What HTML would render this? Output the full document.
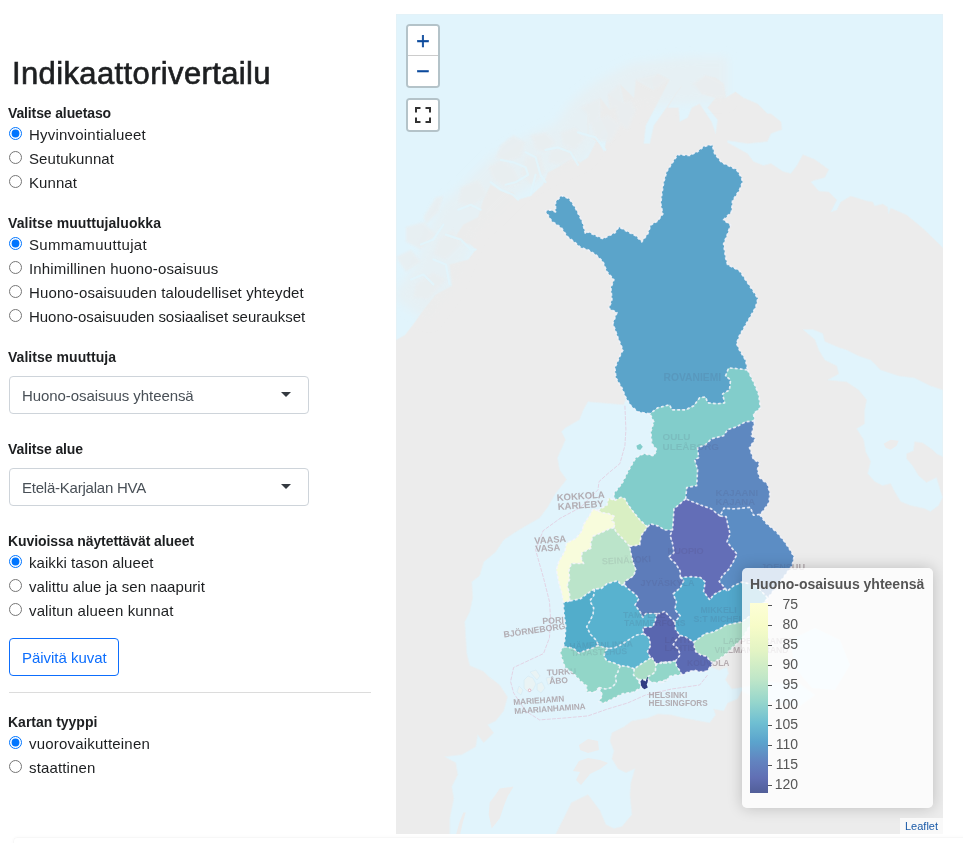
<!DOCTYPE html>
<html lang="fi">
<head>
<meta charset="utf-8">
<title>Indikaattorivertailu</title>
<style>
*{box-sizing:border-box}
html,body{margin:0;padding:0;background:#fff}
body{width:963px;height:843px;position:relative;overflow:hidden;font-family:"Liberation Sans",sans-serif;color:#1d1f21;font-size:15px}
.t{position:absolute;white-space:nowrap;line-height:20px;transform-origin:0 50%}
h1.t{margin:0;font-weight:normal;font-size:31px;line-height:36px;-webkit-text-stroke:0.65px #1d1f21}
.lbl{font-weight:bold;font-size:14px}
.rad{position:absolute;width:13px;height:13px;margin:0;padding:0}
.sel{position:absolute;left:9px;width:300px;height:38px;border:1px solid #ced4da;border-radius:4px;background:#fff}
.sel .t{left:12px;top:9px;color:#495057}
.sel:after{content:"";position:absolute;right:17px;top:15px;border:5px solid transparent;border-top:5px solid #343a40;border-bottom:0}
.btn{position:absolute;left:9px;top:638px;width:110px;height:38px;border:1px solid #0d6efd;border-radius:4px;background:#fff}
.btn .t{left:12px;top:9px;color:#0d6efd}
hr{position:absolute;left:9px;top:692px;width:362px;height:1px;margin:0;border:0;background:#dcdcdc}
#map{position:absolute;left:396px;top:14px;width:547px;height:820px;background:#e0f3fb;overflow:hidden}
#mapsvg{position:absolute;left:0;top:0}
.lbar{position:absolute;width:34px;border:2px solid rgba(0,0,0,0.2);border-radius:4px;background:#fff;background-clip:padding-box;overflow:hidden}
.lb{position:relative;width:30px;height:30px;background:#fff}
.zt{position:absolute;left:0;width:30px;text-align:center;font:normal 23px/30px "Liberation Sans",sans-serif;color:#0c4a9c;-webkit-text-stroke:0.45px #0c4a9c}
#legend{position:absolute;left:346px;top:554px;width:191px;height:240px;background:rgba(255,255,255,0.8);border-radius:5px;box-shadow:0 0 15px rgba(0,0,0,0.2);color:#555}
.lt{position:absolute;left:8px;top:6px;font:bold 14px/20px "Liberation Sans",sans-serif;color:#555;white-space:nowrap}
#attr{position:absolute;right:0;bottom:0;height:16px;padding:0 5px;background:rgba(255,255,255,0.7);font:11px/16px "Liberation Sans",sans-serif;color:#1a5aa8}
#card{position:absolute;left:13px;top:837px;width:960px;height:20px;border:1px solid rgba(0,0,0,0.03);border-radius:4px;box-shadow:0 0 3px rgba(0,0,0,0.03)}
</style>
</head>
<body>
<h1 class="t" style="left:12px;top:56px;letter-spacing:0.37px">Indikaattorivertailu</h1>

<div class="t lbl" style="left:8px;top:103px;letter-spacing:-0.13px">Valitse aluetaso</div>
<input type="radio" class="rad" checked style="left:9px;top:127px"><div class="t" style="left:29px;top:125px;letter-spacing:0.21px">Hyvinvointialueet</div>
<input type="radio" class="rad" style="left:9px;top:151px"><div class="t" style="left:29px;top:149px;letter-spacing:0.07px">Seutukunnat</div>
<input type="radio" class="rad" style="left:9px;top:175px"><div class="t" style="left:29px;top:173px;letter-spacing:0.08px">Kunnat</div>

<div class="t lbl" style="left:8px;top:213px;letter-spacing:0.06px">Valitse muuttujaluokka</div>
<input type="radio" class="rad" checked style="left:9px;top:237px"><div class="t" style="left:29px;top:235px;letter-spacing:0.33px">Summamuuttujat</div>
<input type="radio" class="rad" style="left:9px;top:261px"><div class="t" style="left:29px;top:259px;letter-spacing:0.16px">Inhimillinen huono-osaisuus</div>
<input type="radio" class="rad" style="left:9px;top:285px"><div class="t" style="left:29px;top:283px;letter-spacing:0.12px">Huono-osaisuuden taloudelliset yhteydet</div>
<input type="radio" class="rad" style="left:9px;top:309px"><div class="t" style="left:29px;top:307px;letter-spacing:-0.04px">Huono-osaisuuden sosiaaliset seuraukset</div>

<div class="t lbl" style="left:8px;top:347px;letter-spacing:0.04px">Valitse muuttuja</div>
<div class="sel" style="top:376px"><div class="t" style="letter-spacing:-0.08px">Huono-osaisuus yhteensä</div></div>

<div class="t lbl" style="left:8px;top:439px;letter-spacing:-0.11px">Valitse alue</div>
<div class="sel" style="top:468px"><div class="t" style="letter-spacing:-0.23px">Etelä-Karjalan HVA</div></div>

<div class="t lbl" style="left:8px;top:531px;letter-spacing:-0.08px">Kuvioissa näytettävät alueet</div>
<input type="radio" class="rad" checked style="left:9px;top:555px"><div class="t" style="left:29px;top:553px;letter-spacing:0.06px">kaikki tason alueet</div>
<input type="radio" class="rad" style="left:9px;top:579px"><div class="t" style="left:29px;top:577px;letter-spacing:0.06px">valittu alue ja sen naapurit</div>
<input type="radio" class="rad" style="left:9px;top:603px"><div class="t" style="left:29px;top:601px;letter-spacing:0.13px">valitun alueen kunnat</div>

<div class="btn"><div class="t" style="letter-spacing:-0.03px">Päivitä kuvat</div></div>
<hr>

<div class="t lbl" style="left:8px;top:712px;letter-spacing:-0.01px">Kartan tyyppi</div>
<input type="radio" class="rad" checked style="left:9px;top:736px"><div class="t" style="left:29px;top:734px;letter-spacing:0.2px">vuorovaikutteinen</div>
<input type="radio" class="rad" style="left:9px;top:760px"><div class="t" style="left:29px;top:758px;letter-spacing:0.15px">staattinen</div>

<div id="card"></div>
<div id="map">
<!--MAPSVG-->
<svg id="mapsvg" width="547" height="820" viewBox="0 0 547 820">
<rect width="547" height="820" fill="#ececec"/>
<g fill="#e1f4fc" stroke="#e6f0f4" stroke-width="0.8" stroke-linejoin="round">
<path d="M0.0,0.0 547.0,0.0 547.0,233.8 526.5,213.9 510.6,200.9 494.6,193.9 492.6,199.9 491.6,192.9 486.6,189.9 478.7,191.9 476.7,187.9 470.7,186.9 454.7,182.0 444.8,187.9 440.8,195.9 434.8,197.9 440.8,185.9 432.8,178.0 422.8,177.0 414.9,168.0 417.9,166.5 428.8,163.5 432.8,155.5 418.9,145.5 406.9,140.6 400.9,151.5 394.9,159.5 387.0,157.5 375.0,149.5 367.4,151.5 357.5,147.5 351.5,139.6 331.6,128.6 331.6,126.6 351.5,129.6 371.4,127.6 375.0,119.6 386.0,115.6 385.0,107.7 375.0,99.7 371.4,99.7 361.5,89.7 347.5,83.7 339.5,77.8 329.6,83.7 327.6,69.8 319.6,63.8 309.6,61.8 299.7,69.8 305.6,79.7 319.6,83.7 311.6,93.7 321.6,105.7 319.6,119.6 315.6,107.7 303.6,89.7 295.7,93.7 291.7,103.7 283.7,107.7 282.7,93.7 271.7,93.7 279.7,79.7 285.7,71.8 257.8,111.6 253.8,129.6 247.8,129.6 249.8,111.6 273.7,65.8 261.8,59.8 255.8,65.8 257.8,75.8 239.8,65.8 237.9,83.7 223.9,69.8 227.9,89.7 211.9,79.7 213.9,95.7 204.0,83.7 204.0,103.7 211.9,119.6 207.9,137.6 200.0,123.6 192.0,119.6 192.0,89.7 192.0,119.6 200.0,127.6 192.0,143.5 184.4,148.3 174.5,144.6 162.0,153.3 152.0,158.3 147.0,170.7 134.6,182.0 122.1,185.7 117.1,178.2 104.7,177.0 94.7,170.7 87.2,185.7 82.2,203.1 67.3,210.6 57.3,225.6 74.8,230.5 79.8,235.5 72.3,245.5 53.6,250.5 56.1,271.7 39.9,280.4 27.4,296.1 19.0,308.0 9.0,321.0 0.0,326.0Z"/>
<path d="M406.9,315.5 418.9,325.5 422.8,336.0 428.8,346.0 440.8,351.9 442.8,359.9 431.8,365.9 450.8,367.9 462.7,375.9 470.7,385.8 468.7,395.8 468.7,409.8 460.7,414.7 467.7,425.7 469.7,437.7 474.7,447.6 471.7,459.6 478.7,467.6 486.6,471.6 494.6,469.6 498.6,477.5 504.6,487.5 514.6,491.5 528.5,494.5 534.5,497.5 542.5,491.5 546.5,483.5 543.5,473.6 540.5,463.6 530.5,468.6 522.5,461.6 516.5,451.6 510.6,444.7 510.6,439.7 517.5,436.7 518.5,427.7 526.5,428.7 536.5,435.7 540.5,439.7 546.9,442.7 546.9,375.9 534.5,371.9 518.5,363.9 502.6,361.9 484.6,355.9 474.7,346.0 462.7,342.0 454.7,338.0 450.8,336.0 442.8,333.5 428.8,327.5 426.8,319.5 416.9,315.5Z"/>
<path d="M229.9,384.8 227.9,390.8 204.0,388.8 192.0,387.8 187.4,395.8 183.4,405.8 169.5,413.8 165.5,417.7 169.5,425.7 161.5,443.7 163.5,455.6 170.5,465.6 159.5,479.5 151.5,493.5 143.5,504.1 129.6,512.0 119.6,518.0 107.7,525.9 99.7,537.9 87.7,547.9 83.7,561.8 75.8,567.8 76.8,583.7 73.8,597.7 68.8,607.7 69.8,623.6 70.8,639.6 73.8,651.5 87.7,657.5 95.7,665.5 93.7,663.0 103.7,671.0 111.6,682.9 107.7,696.9 99.7,706.9 91.7,710.8 97.7,718.8 87.7,728.8 81.7,720.8 79.7,732.8 65.8,740.7 48.8,742.7 59.8,748.7 61.8,760.7 55.8,772.6 57.8,784.6 53.8,804.5 53.8,820.5 159.5,820.5 169.5,800.6 175.4,788.6 192.0,780.6 204.0,796.6 209.9,810.5 217.9,814.5 225.9,812.5 235.9,800.6 233.9,780.6 234.9,768.7 238.9,754.7 229.9,758.7 221.9,754.7 215.9,744.7 217.9,736.8 213.9,726.8 215.9,718.8 227.9,712.8 235.9,706.9 251.8,703.9 261.8,699.9 275.7,700.9 287.7,703.9 303.6,706.9 313.6,708.8 319.6,700.9 317.6,694.9 327.6,696.9 331.6,688.9 341.5,684.9 345.5,676.9 364.0,686.0 404.0,692.0 419.0,681.0 404.0,670.0 374.0,668.0 345.8,673.5 335.7,675.0 329.4,665.7 332.5,659.5 331.0,653.2 323.2,656.3 315.4,653.2 315.0,651.0 304.0,641.0 284.0,641.0 264.0,651.0 244.0,651.0 224.0,661.0 204.0,661.0 189.0,651.0 179.0,636.0 179.0,586.0 176.0,556.0 184.0,536.0 199.0,516.0 214.0,501.0 229.0,486.0 244.0,456.0 266.0,438.0 266.0,406.0 249.0,391.0 230.0,384.0Z"/>
</g>
<path d="M394.0,626.0 419.0,614.0 444.0,626.0 454.0,651.0 439.0,676.0 416.0,674.0 399.0,654.0Z" fill="#e1f4fc"/>
<g fill="#ececec">
<path d="M103.7,774.6 117.6,772.6 111.6,782.6 107.7,792.6 103.7,804.5 95.7,814.5 92.7,800.6 93.7,788.6 99.7,780.6Z"/>
<path d="M69.8,798.6 66.8,808.5 64.2,819.9 60.2,819.9 63.4,808.5 67.4,798.6Z"/>
<path d="M183.0,731.0 192.0,725.0 202.0,727.0 203.0,736.0 192.0,739.0 184.0,736.0Z"/>
<path d="M177.0,757.0 183.0,747.0 192.0,744.0 204.0,746.0 212.0,749.0 204.0,755.0 194.0,760.0 185.0,771.0 180.0,766.0 184.0,758.0Z"/>
<path d="M487.6,429.7 494.6,425.7 502.6,426.7 500.6,431.7 494.6,435.7 489.6,433.7Z"/>
</g>
<filter id="bl2" x="-30%" y="-30%" width="160%" height="160%"><feGaussianBlur stdDeviation="5"/></filter>
<path d="M331.6,65.8 303.6,65.8 275.7,67.8 241.8,71.8 211.9,87.7 192.0,103.7 174.5,128.4 139.6,143.3 109.7,160.8 84.7,185.7 62.3,205.6 49.8,235.5 37.4,265.4 15.0,296.1" fill="none" stroke="#ebedee" stroke-opacity="0.5" stroke-width="46" stroke-linejoin="round" filter="url(#bl2)"/>
<filter id="bl" x="-20%" y="-20%" width="140%" height="140%"><feGaussianBlur stdDeviation="0.9"/></filter>
<g fill="#e9eef0" opacity="0.8" filter="url(#bl)">
<path d="M295.7,69.8 309.6,60.8 327.6,69.8 329.6,83.7 319.6,83.7 305.6,79.7Z"/>
<path d="M237.9,65.8 261.8,59.8 273.7,65.8 257.8,75.8Z"/>
<path d="M211.9,79.7 223.9,69.8 227.9,89.7 213.9,95.7Z"/>
<path d="M192.0,89.7 204.0,83.7 204.0,103.7 192.0,111.6Z"/>
<path d="M104.7,130.9 117.1,120.9 129.6,128.4 124.6,143.3 109.7,148.3 99.7,143.3Z"/>
<path d="M134.6,120.9 149.5,118.4 159.5,128.4 149.5,138.3 139.6,135.8Z"/>
<path d="M164.5,118.4 179.4,113.4 189.4,123.4 179.4,135.8 167.0,130.9Z"/>
<path d="M184.4,93.5 199.4,86.0 206.9,96.0 194.4,103.4Z"/>
<path d="M194.4,108.4 211.8,101.0 224.3,110.9 214.3,128.4 199.4,125.9Z"/>
<path d="M92.2,153.3 104.7,145.8 117.1,153.3 124.6,168.2 109.7,173.2 97.2,165.8Z"/>
<path d="M64.8,173.2 82.2,165.8 92.2,180.7 74.8,193.2 62.3,188.2Z"/>
<path d="M39.9,183.2 47.4,182.0 42.4,198.1 29.9,210.6 27.4,203.1Z"/>
<path d="M10.0,213.1 27.4,208.1 39.9,220.6 24.9,235.5 10.0,228.1Z"/>
<path d="M42.4,225.6 57.3,215.6 64.8,230.5 49.8,245.5 37.4,240.5Z"/>
<path d="M0.0,243.0 15.0,235.5 24.9,248.0 10.0,258.0Z"/>
<path d="M19.9,270.4 37.4,258.0 49.8,265.4 32.4,285.4 17.4,282.9Z"/>
<path d="M129.6,143.3 144.5,140.8 149.5,158.3 134.6,170.7 124.6,160.8Z"/>
<path d="M219.3,91.0 234.3,86.0 240.0,96.0 231.8,115.9 221.8,108.4Z"/>
<path d="M154.5,135.8 174.5,133.4 179.4,143.3 164.5,150.8 152.0,148.3Z"/>
</g>
<g fill="none" stroke="#e1f4fc" stroke-opacity="0.85" stroke-width="2.2" stroke-linecap="round" stroke-linejoin="round">
<path d="M104.7,145.8 117.1,148.3 129.6,153.3 132.1,160.8 119.6,168.2 109.7,170.7"/>
<path d="M129.6,138.3 139.6,143.3 144.5,160.8 149.5,168.2"/>
<path d="M149.5,135.8 162.0,133.4 174.5,138.3 181.9,150.8"/>
<path d="M94.7,168.2 104.7,175.7 117.1,180.7 122.1,185.7"/>
<path d="M181.9,118.4 199.4,123.4 209.3,135.8"/>
<path d="M62.3,195.7 74.8,190.7 84.7,195.7"/>
<path d="M49.8,220.6 64.8,225.6 74.8,235.5 79.8,235.5"/>
<path d="M37.4,245.5 49.8,250.5 53.6,270.4"/>
<path d="M139.6,160.8 134.6,180.7"/>
<path d="M24.9,230.5 37.4,225.6 47.4,210.6"/>
<path d="M15.0,265.4 27.4,260.5 37.4,270.4"/>
</g>
<path d="M228.9,391.8 229.9,415.7 228.9,431.7 223.9,449.6 211.9,459.6 203.0,467.6 202.0,475.6 201.6,476.2 184.5,493.4 164.2,504.3 147.1,516.7 139.6,535.9 147.5,563.8 153.5,587.7 154.5,603.7 153.5,623.6 147.5,639.6 117.6,653.5 114.6,667.5 117.6,678.9 129.6,696.9 143.5,705.9 169.5,703.9 192.0,701.9 211.9,694.9 231.9,688.9 249.8,680.9 275.7,675.0 303.6,671.0 311.6,661.0" fill="none" stroke="#e3c3d8" stroke-opacity="0.75" stroke-width="0.9" stroke-dasharray="4 1.2"/>
<g fill="#edf3f1" stroke="#d3e8f3" stroke-width="0.8" opacity="0.7">
<path d="M128.0,666.0 132.0,662.0 137.0,664.0 140.0,670.0 137.0,676.0 132.0,678.0 128.0,674.0Z"/>
<path d="M134.0,658.0 140.0,656.0 144.0,662.0 141.0,666.0Z"/>
<path d="M141.0,670.0 146.0,668.0 149.0,674.0 145.0,679.0 141.0,676.0Z"/>
<path d="M150.0,664.0 155.0,663.0 156.0,669.0 152.0,671.0Z"/>
<path d="M123.0,672.0 127.0,676.0 125.0,681.0 121.0,678.0Z"/>
</g>
<circle cx="133.6" cy="676.3" r="1.3" fill="#fff" stroke="#d9a8b8" stroke-width="0.8"/>
<g font-family="'Liberation Sans',sans-serif" font-weight="bold" font-size="10" fill="#b4a9ab" fill-opacity="0.75">
<text x="267.5" y="366.5" font-size="10.3">ROVANIEMI</text>
<text x="266.5" y="425.5" font-size="9.9">OULU</text>
<text x="266.5" y="435.5" font-size="9.9">ULEÅBORG</text>
<text x="319.5" y="482.0" font-size="9.6">KAJAANI</text>
<text x="319.5" y="491.0" font-size="9.5">KAJANA</text>
<text x="161.0" y="487.0" font-size="9.5" transform="rotate(-4 161.0 487.0)">KOKKOLA</text>
<text x="162.0" y="496.0" font-size="9.5" transform="rotate(-4 162.0 496.0)">KARLEBY</text>
<text x="138.5" y="530.0" font-size="9.3" transform="rotate(-4 138.5 530.0)">VAASA</text>
<text x="139.5" y="538.0" font-size="9.2" transform="rotate(-4 139.5 538.0)">VASA</text>
<text x="206.0" y="550.5" font-size="9.1" transform="rotate(-3 206.0 550.5)">SEINÄJOKI</text>
<text x="244.5" y="572.0" font-size="9.0">JYVÄSKYLÄ</text>
<text x="271.5" y="540.0" font-size="9.2">KUOPIO</text>
<text x="365.0" y="555.5" font-size="9.1">JOENSUU</text>
<text x="304.5" y="598.5" font-size="8.8">MIKKELI</text>
<text x="297.5" y="607.5" font-size="8.8">S:T MICHEL</text>
<text x="227.0" y="603.5" font-size="8.8">TAMPERE</text>
<text x="228.0" y="612.0" font-size="8.7">TAMMERFORS</text>
<text x="146.5" y="610.0" font-size="8.8" transform="rotate(-3 146.5 610.0)">PORI</text>
<text x="108.0" y="623.5" font-size="8.7" transform="rotate(-8 108.0 623.5)">BJÖRNEBORG</text>
<text x="173.5" y="635.0" font-size="8.6" transform="rotate(-2 173.5 635.0)">HÄMEENLINNA</text>
<text x="175.0" y="642.0" font-size="8.6" transform="rotate(-2 175.0 642.0)">TAVASTEHUS</text>
<text x="268.5" y="628.5" font-size="8.6">LAHTI</text>
<text x="268.5" y="636.5" font-size="8.6">LAHTIS</text>
<text x="291.0" y="651.5" font-size="8.5">KOUVOLA</text>
<text x="327.0" y="629.5" font-size="8.6">LAPPEENRANTA</text>
<text x="318.5" y="639.0" font-size="8.6">VILLMANSTRAND</text>
<text x="151.0" y="661.5" font-size="8.4" transform="rotate(-3 151.0 661.5)">TURKU</text>
<text x="153.5" y="670.0" font-size="8.4" transform="rotate(-3 153.5 670.0)">ÅBO</text>
<text x="117.5" y="691.0" font-size="8.2" transform="rotate(-4 117.5 691.0)">MARIEHAMN</text>
<text x="118.5" y="700.0" font-size="8.2" transform="rotate(-4 118.5 700.0)">MAARIANHAMINA</text>
<text x="252.5" y="683.5" font-size="8.3">HELSINKI</text>
<text x="252.5" y="691.5" font-size="8.2">HELSINGFORS</text>
</g>
<g stroke="none">
<path d="M253.8,399.8 241.8,397.8 234.9,391.8 229.9,383.8 225.9,373.9 219.9,363.9 218.9,353.9 223.9,342.0 226.9,336.0 221.9,323.5 216.9,309.5 220.9,298.6 212.9,294.6 215.9,285.6 214.9,273.7 217.9,265.7 210.9,257.7 207.0,247.7 200.0,240.8 192.0,235.8 184.4,233.4 179.4,228.8 171.5,222.8 165.5,213.9 155.5,206.9 149.5,196.9 154.5,195.9 159.5,197.9 159.5,187.9 165.5,181.6 173.4,184.9 179.4,193.9 186.4,207.9 189.4,219.8 192.0,217.8 198.0,220.8 207.0,224.8 218.9,218.8 222.9,212.9 229.9,216.8 239.8,221.8 245.8,227.8 251.8,219.8 254.8,210.9 261.8,206.9 266.8,199.9 264.8,189.9 265.8,180.0 267.8,168.0 270.7,157.5 281.7,140.6 293.7,141.5 301.6,137.6 307.6,132.6 316.2,130.6 318.6,139.6 325.6,148.5 340.5,155.5 345.5,163.5 346.5,168.1 343.5,176.0 336.5,186.9 335.5,197.9 327.6,205.9 334.5,210.9 331.6,219.8 327.6,229.8 329.6,243.8 331.6,250.7 343.5,256.7 349.5,265.7 357.5,277.6 361.9,284.6 359.5,293.6 351.5,307.6 343.5,321.5 340.5,329.5 343.5,336.1 349.5,346.0 351.5,355.9 343.5,354.9 332.6,353.9 329.6,361.9 334.5,365.9 333.5,375.9 326.6,379.9 328.6,388.8 321.6,389.8 311.6,388.8 309.6,382.9 303.6,383.8 297.7,391.8 289.7,395.8 275.7,395.8 273.7,390.8 261.8,393.8Z" fill="#5ba4ca"/>
<path d="M253.8,399.8 261.8,393.8 273.7,390.8 275.7,395.8 289.7,395.8 297.7,391.8 303.6,383.8 309.6,382.9 311.6,388.8 321.6,389.8 328.6,388.8 326.6,379.9 333.5,375.9 334.5,365.9 329.6,361.9 332.6,353.9 343.5,354.9 351.5,355.9 357.5,367.9 362.5,379.9 364.4,393.8 357.5,399.8 358.5,406.8 349.5,407.8 340.5,412.8 331.6,415.7 327.6,421.7 315.6,424.7 309.6,430.7 301.6,433.7 302.6,443.7 298.7,445.6 301.6,455.6 300.7,471.6 290.7,473.6 289.7,484.8 278.0,494.9 277.2,507.4 276.5,516.0 268.6,516.0 262.4,512.1 254.6,509.7 251.5,512.9 243.7,505.8 237.5,498.1 231.2,489.5 228.9,484.8 225.0,483.3 218.8,486.4 217.9,479.5 225.9,469.6 231.9,457.6 239.8,443.7 247.8,439.7 257.8,441.7 260.8,435.7 255.8,429.7 254.8,417.7 257.8,407.8Z" fill="#82cdcb"/>
<path d="M358.5,406.8 357.5,411.8 355.5,421.7 359.5,424.7 353.5,433.7 357.5,445.6 363.5,448.6 361.4,456.0 363.7,463.8 371.5,470.0 373.8,479.4 373.0,488.7 366.8,497.3 363.7,500.4 357.5,501.2 354.3,493.4 337.2,494.9 327.9,494.2 324.0,502.0 315.4,494.9 304.5,491.0 295.2,487.2 289.7,484.8 290.7,473.6 300.7,471.6 301.6,455.6 298.7,445.6 302.6,443.7 301.6,433.7 309.6,430.7 315.6,424.7 327.6,421.7 331.6,415.7 340.5,412.8 349.5,407.8Z" fill="#5e88c0"/>
<path d="M363.7,500.4 369.9,509.0 380.8,518.3 388.6,527.7 394.8,537.0 398.0,543.2 396.0,552.0 384.0,568.0 372.0,584.0 359.0,571.0 345.8,568.1 337.2,572.0 331.0,577.5 329.4,574.4 323.2,567.4 326.3,561.9 332.5,555.7 337.2,547.9 341.1,540.1 335.7,533.9 331.0,527.7 334.1,519.9 331.8,510.5 330.2,502.7 324.0,502.0 327.9,494.2 337.2,494.9 354.3,493.4 357.5,501.2Z" fill="#5c8dc4"/>
<path d="M289.7,484.8 295.2,487.2 304.5,491.0 315.4,494.9 324.0,502.0 330.2,502.7 331.8,510.5 334.1,519.9 331.0,527.7 335.7,533.9 341.1,540.1 337.2,547.9 332.5,555.7 326.3,561.9 323.2,567.4 329.4,574.4 326.3,575.9 317.7,580.6 313.8,586.1 307.6,577.5 309.2,568.1 304.5,563.5 295.2,562.7 284.2,563.5 284.2,557.2 279.6,549.5 272.6,543.2 278.0,538.6 276.5,529.2 274.1,521.4 276.5,516.0 277.2,507.4 278.0,494.9Z" fill="#636eb7"/>
<path d="M251.5,512.9 254.6,509.7 262.4,512.1 268.6,516.0 276.5,516.0 274.1,521.4 276.5,529.2 278.0,538.6 272.6,543.2 279.6,549.5 284.2,557.2 284.2,563.5 288.1,566.0 284.2,573.8 277.2,580.0 280.4,587.8 278.8,595.6 284.2,601.8 278.8,608.1 273.3,602.6 268.7,597.2 264.0,599.5 260.8,599.5 249.9,599.5 246.8,603.4 243.7,597.2 239.0,590.9 242.9,584.7 239.0,580.0 232.8,575.3 228.1,570.7 228.9,567.4 237.5,561.9 239.8,555.7 237.5,549.5 235.1,540.1 233.6,532.3 243.7,530.8 245.2,521.4Z" fill="#5d7cba"/>
<path d="M218.8,486.4 225.0,483.3 228.9,484.8 231.2,489.5 237.5,498.1 243.7,505.8 251.5,512.9 245.2,521.4 243.7,530.8 233.6,532.3 228.1,526.1 220.3,518.3 218.0,513.6 218.8,509.0 214.9,506.6 218.8,502.7 212.5,499.6 206.3,498.8 201.6,496.5 207.1,493.4 211.0,491.0 212.5,484.0Z" fill="#d9efc3"/>
<path d="M201.6,496.5 197.0,494.9 193.8,501.2 187.6,510.5 186.1,516.7 179.8,524.5 170.5,529.2 168.9,537.0 162.7,547.9 160.4,555.7 162.7,568.1 165.8,579.1 167.4,588.6 173.6,587.0 173.6,580.6 171.3,571.3 173.6,565.0 172.8,557.2 175.2,549.5 187.6,549.5 185.3,544.8 186.1,538.6 195.4,533.9 194.6,529.2 197.0,522.2 206.3,518.3 212.5,515.2 218.0,513.6 218.8,509.0 214.9,506.6 218.8,502.7 212.5,499.6 206.3,498.8Z" fill="#f8fcdc"/>
<path d="M218.0,513.6 220.3,518.3 228.1,526.1 233.6,532.3 235.1,540.1 237.5,549.5 239.8,555.7 237.5,561.9 228.9,567.4 228.1,570.7 225.0,571.3 221.9,566.6 211.0,569.7 205.5,574.4 198.5,575.0 190.7,580.0 184.5,584.7 173.6,587.0 173.6,580.6 171.3,571.3 173.6,565.0 172.8,557.2 175.2,549.5 187.6,549.5 185.3,544.8 186.1,538.6 195.4,533.9 194.6,529.2 197.0,522.2 206.3,518.3 212.5,515.2Z" fill="#bbe4ca"/>
<path d="M173.6,587.0 184.5,584.7 190.7,580.0 198.5,575.0 197.7,581.6 193.8,587.0 197.7,594.0 197.0,600.3 194.6,605.7 190.7,612.7 194.6,620.5 200.1,626.0 202.4,631.4 195.4,634.5 188.4,636.9 182.9,639.2 177.5,634.5 171.3,633.0 167.4,633.0 168.9,625.2 169.7,612.7 168.1,600.3 167.4,588.6Z" fill="#52adcb"/>
<path d="M198.5,575.0 205.5,574.4 211.0,569.7 221.9,566.6 225.0,571.3 228.1,570.7 232.8,575.3 239.0,580.0 242.9,584.7 239.0,590.9 243.7,597.2 246.8,603.4 249.9,599.5 260.8,599.5 259.3,606.5 256.9,612.7 246.8,613.5 247.6,619.7 239.8,621.3 233.6,625.2 226.6,629.9 218.8,633.8 212.5,634.5 206.3,633.0 202.4,631.4 200.1,626.0 194.6,620.5 190.7,612.7 194.6,605.7 197.0,600.3 197.7,594.0 193.8,587.0 197.7,581.6Z" fill="#58b2cf"/>
<path d="M212.5,634.5 218.8,633.8 226.6,629.9 233.6,625.2 239.8,621.3 247.6,619.7 253.0,623.6 254.6,631.4 251.5,637.7 254.6,643.9 249.9,647.0 243.7,650.9 238.2,654.8 231.2,652.4 224.2,651.7 217.2,648.6 211.0,647.0 207.9,642.3 209.4,636.9Z" fill="#5db5d0"/>
<path d="M260.8,599.5 264.0,599.5 268.7,597.2 273.3,602.6 278.8,608.1 279.6,615.8 284.2,621.3 279.6,626.7 277.2,630.6 281.9,634.5 284.2,640.8 279.6,647.0 273.3,647.8 264.0,649.3 274.8,648.6 267.1,647.8 260.0,650.1 256.1,643.9 254.6,643.9 251.5,637.7 254.6,631.4 253.0,623.6 247.6,619.7 246.8,613.5 256.9,612.7 259.3,606.5Z" fill="#5966af"/>
<path d="M284.2,563.5 295.2,562.7 304.5,563.5 309.2,568.1 307.6,577.5 313.8,586.1 317.7,580.6 326.3,575.9 329.4,574.4 331.0,577.5 337.2,572.0 345.8,568.1 359.0,571.0 372.0,584.0 359.0,598.0 345.8,608.1 337.2,609.6 329.4,611.2 324.7,614.3 317.0,618.2 309.2,619.7 302.9,624.4 297.5,628.3 294.4,626.0 289.7,622.9 284.2,621.3 279.6,615.8 278.8,608.1 284.2,601.8 278.8,595.6 280.4,587.8 277.2,580.0 284.2,573.8 288.1,566.0Z" fill="#52a8cc"/>
<path d="M297.5,628.3 302.9,624.4 309.2,619.7 317.0,618.2 324.7,614.3 329.4,611.2 337.2,609.6 345.8,608.1 359.0,598.0 372.0,584.0 362.0,600.0 353.0,613.0 345.8,625.2 338.8,631.4 331.0,639.2 324.7,643.9 317.0,648.6 313.8,647.0 310.7,642.3 304.5,640.8 299.8,637.7 298.3,633.0Z" fill="#aadec8"/>
<path d="M284.2,621.3 289.7,622.9 294.4,626.0 297.5,628.3 298.3,633.0 299.8,637.7 304.5,640.8 310.7,642.3 313.8,647.0 317.0,648.6 315.4,651.7 310.7,657.1 304.5,657.9 298.3,656.3 292.0,657.9 285.8,661.0 283.5,656.3 280.4,651.7 279.6,647.0 284.2,640.8 281.9,634.5 277.2,630.6 279.6,626.7Z" fill="#5c6bb3"/>
<path d="M260.0,650.1 267.1,647.8 274.8,648.6 264.0,649.3 273.3,647.8 279.6,647.0 280.4,651.7 283.5,656.3 285.8,661.0 279.6,661.0 273.3,662.6 270.2,667.2 264.0,668.8 271.7,665.7 265.5,667.2 259.3,668.8 253.0,667.2 251.5,662.6 255.4,661.0 259.3,657.9Z" fill="#92d6c9"/>
<path d="M238.2,654.8 243.7,650.9 249.9,647.0 254.6,643.9 256.1,643.9 260.0,650.1 259.3,657.9 255.4,661.0 251.5,662.6 253.0,667.2 249.9,665.7 245.2,665.7 242.1,665.7 237.5,661.0Z" fill="#a9ddc6"/>
<path d="M224.2,651.7 231.2,652.4 238.2,654.8 237.5,661.0 242.1,665.7 245.2,673.5 237.5,678.1 226.6,679.7 217.2,684.4 207.9,689.1 203.2,687.5 206.3,681.3 203.2,673.5 209.4,675.0 215.7,673.5 220.3,668.8 219.5,662.6 221.9,657.9Z" fill="#8ed4c8"/>
<path d="M167.4,633.0 171.3,633.0 177.5,634.5 182.9,639.2 188.4,636.9 195.4,634.5 202.4,631.4 206.3,633.0 212.5,634.5 209.4,636.9 207.9,642.3 211.0,647.0 217.2,648.6 224.2,651.7 221.9,657.9 219.5,662.6 220.3,668.8 215.7,673.5 209.4,675.0 203.2,673.5 198.5,678.1 190.7,678.1 190.7,671.9 184.5,667.2 177.5,659.5 168.9,653.2 165.8,643.9 164.2,637.7Z" fill="#92d6c8"/>
<path d="M244.5,667.2 246.8,664.9 249.6,667.6 251.5,662.6 252.6,665.7 250.7,670.4 251.8,673.5 248.4,675.3 245.2,672.7Z" fill="#303c82"/>
<path d="M240.4,431.7 244.2,429.7 246.8,432.7 244.2,436.1 241.4,435.3Z" fill="#82cdcb"/>
</g>
<g fill="none" stroke="#f4f4fb" stroke-opacity="0.85" stroke-width="1.7" stroke-dasharray="2.8 2.2" stroke-linejoin="round">
<path d="M253.8,399.8 241.8,397.8 234.9,391.8 229.9,383.8 225.9,373.9 219.9,363.9 218.9,353.9 223.9,342.0 226.9,336.0 221.9,323.5 216.9,309.5 220.9,298.6 212.9,294.6 215.9,285.6 214.9,273.7 217.9,265.7 210.9,257.7 207.0,247.7 200.0,240.8 192.0,235.8 184.4,233.4 179.4,228.8 171.5,222.8 165.5,213.9 155.5,206.9 149.5,196.9 154.5,195.9 159.5,197.9 159.5,187.9 165.5,181.6 173.4,184.9 179.4,193.9 186.4,207.9 189.4,219.8 192.0,217.8 198.0,220.8 207.0,224.8 218.9,218.8 222.9,212.9 229.9,216.8 239.8,221.8 245.8,227.8 251.8,219.8 254.8,210.9 261.8,206.9 266.8,199.9 264.8,189.9 265.8,180.0 267.8,168.0 270.7,157.5 281.7,140.6 293.7,141.5 301.6,137.6 307.6,132.6 316.2,130.6 318.6,139.6 325.6,148.5 340.5,155.5 345.5,163.5 346.5,168.1 343.5,176.0 336.5,186.9 335.5,197.9 327.6,205.9 334.5,210.9 331.6,219.8 327.6,229.8 329.6,243.8 331.6,250.7 343.5,256.7 349.5,265.7 357.5,277.6 361.9,284.6 359.5,293.6 351.5,307.6 343.5,321.5 340.5,329.5 343.5,336.1 349.5,346.0 351.5,355.9"/>
<path d="M351.5,355.9 343.5,354.9 332.6,353.9 329.6,361.9 334.5,365.9 333.5,375.9 326.6,379.9 328.6,388.8 321.6,389.8 311.6,388.8 309.6,382.9 303.6,383.8 297.7,391.8 289.7,395.8 275.7,395.8 273.7,390.8 261.8,393.8 253.8,399.8"/>
<path d="M351.5,355.9 357.5,367.9 362.5,379.9 364.4,393.8 357.5,399.8 358.5,406.8"/>
<path d="M358.5,406.8 349.5,407.8 340.5,412.8 331.6,415.7 327.6,421.7 315.6,424.7 309.6,430.7 301.6,433.7 302.6,443.7 298.7,445.6 301.6,455.6 300.7,471.6 290.7,473.6 289.7,484.8"/>
<path d="M289.7,484.8 278.0,494.9 277.2,507.4 276.5,516.0"/>
<path d="M276.5,516.0 268.6,516.0 262.4,512.1 254.6,509.7 251.5,512.9"/>
<path d="M251.5,512.9 243.7,505.8 237.5,498.1 231.2,489.5 228.9,484.8 225.0,483.3 218.8,486.4"/>
<path d="M218.8,486.4 217.9,479.5 225.9,469.6 231.9,457.6 239.8,443.7 247.8,439.7 257.8,441.7 260.8,435.7 255.8,429.7 254.8,417.7 257.8,407.8 253.8,399.8"/>
<path d="M358.5,406.8 357.5,411.8 355.5,421.7 359.5,424.7 353.5,433.7 357.5,445.6 363.5,448.6 361.4,456.0 363.7,463.8 371.5,470.0 373.8,479.4 373.0,488.7 366.8,497.3 363.7,500.4"/>
<path d="M363.7,500.4 357.5,501.2 354.3,493.4 337.2,494.9 327.9,494.2 324.0,502.0"/>
<path d="M324.0,502.0 315.4,494.9 304.5,491.0 295.2,487.2 289.7,484.8"/>
<path d="M363.7,500.4 369.9,509.0 380.8,518.3 388.6,527.7 394.8,537.0 398.0,543.2 396.0,552.0 384.0,568.0 372.0,584.0"/>
<path d="M324.0,502.0 330.2,502.7 331.8,510.5 334.1,519.9 331.0,527.7 335.7,533.9 341.1,540.1 337.2,547.9 332.5,555.7 326.3,561.9 323.2,567.4 329.4,574.4"/>
<path d="M329.4,574.4 331.0,577.5 337.2,572.0 345.8,568.1 359.0,571.0 372.0,584.0"/>
<path d="M329.4,574.4 326.3,575.9 317.7,580.6 313.8,586.1 307.6,577.5 309.2,568.1 304.5,563.5 295.2,562.7 284.2,563.5"/>
<path d="M284.2,563.5 284.2,557.2 279.6,549.5 272.6,543.2 278.0,538.6 276.5,529.2 274.1,521.4 276.5,516.0"/>
<path d="M284.2,563.5 288.1,566.0 284.2,573.8 277.2,580.0 280.4,587.8 278.8,595.6 284.2,601.8 278.8,608.1"/>
<path d="M278.8,608.1 273.3,602.6 268.7,597.2 264.0,599.5 260.8,599.5"/>
<path d="M260.8,599.5 249.9,599.5 246.8,603.4 243.7,597.2 239.0,590.9 242.9,584.7 239.0,580.0 232.8,575.3 228.1,570.7"/>
<path d="M228.1,570.7 228.9,567.4 237.5,561.9 239.8,555.7 237.5,549.5 235.1,540.1 233.6,532.3"/>
<path d="M233.6,532.3 243.7,530.8 245.2,521.4 251.5,512.9"/>
<path d="M233.6,532.3 228.1,526.1 220.3,518.3 218.0,513.6"/>
<path d="M218.0,513.6 218.8,509.0 214.9,506.6 218.8,502.7 212.5,499.6 206.3,498.8 201.6,496.5"/>
<path d="M201.6,496.5 207.1,493.4 211.0,491.0 212.5,484.0 218.8,486.4"/>
<path d="M201.6,496.5 197.0,494.9 193.8,501.2 187.6,510.5 186.1,516.7 179.8,524.5 170.5,529.2 168.9,537.0 162.7,547.9 160.4,555.7 162.7,568.1 165.8,579.1 167.4,588.6"/>
<path d="M218.0,513.6 212.5,515.2 206.3,518.3 197.0,522.2 194.6,529.2 195.4,533.9 186.1,538.6 185.3,544.8 187.6,549.5 175.2,549.5 172.8,557.2 173.6,565.0 171.3,571.3 173.6,580.6 173.6,587.0"/>
<path d="M173.6,587.0 167.4,588.6"/>
<path d="M228.1,570.7 225.0,571.3 221.9,566.6 211.0,569.7 205.5,574.4 198.5,575.0"/>
<path d="M198.5,575.0 190.7,580.0 184.5,584.7 173.6,587.0"/>
<path d="M198.5,575.0 197.7,581.6 193.8,587.0 197.7,594.0 197.0,600.3 194.6,605.7 190.7,612.7 194.6,620.5 200.1,626.0 202.4,631.4"/>
<path d="M202.4,631.4 195.4,634.5 188.4,636.9 182.9,639.2 177.5,634.5 171.3,633.0 167.4,633.0"/>
<path d="M167.4,633.0 168.9,625.2 169.7,612.7 168.1,600.3 167.4,588.6"/>
<path d="M260.8,599.5 259.3,606.5 256.9,612.7 246.8,613.5 247.6,619.7"/>
<path d="M247.6,619.7 239.8,621.3 233.6,625.2 226.6,629.9 218.8,633.8 212.5,634.5"/>
<path d="M212.5,634.5 206.3,633.0 202.4,631.4"/>
<path d="M247.6,619.7 253.0,623.6 254.6,631.4 251.5,637.7 254.6,643.9"/>
<path d="M254.6,643.9 249.9,647.0 243.7,650.9 238.2,654.8"/>
<path d="M238.2,654.8 231.2,652.4 224.2,651.7"/>
<path d="M224.2,651.7 217.2,648.6 211.0,647.0 207.9,642.3 209.4,636.9 212.5,634.5"/>
<path d="M278.8,608.1 279.6,615.8 284.2,621.3"/>
<path d="M284.2,621.3 279.6,626.7 277.2,630.6 281.9,634.5 284.2,640.8 279.6,647.0"/>
<path d="M279.6,647.0 273.3,647.8 264.0,649.3 274.8,648.6 267.1,647.8 260.0,650.1"/>
<path d="M260.0,650.1 256.1,643.9 254.6,643.9"/>
<path d="M284.2,621.3 289.7,622.9 294.4,626.0 297.5,628.3"/>
<path d="M297.5,628.3 302.9,624.4 309.2,619.7 317.0,618.2 324.7,614.3 329.4,611.2 337.2,609.6 345.8,608.1 359.0,598.0 372.0,584.0"/>
<path d="M372.0,584.0 362.0,600.0 353.0,613.0 345.8,625.2 338.8,631.4 331.0,639.2 324.7,643.9 317.0,648.6"/>
<path d="M317.0,648.6 313.8,647.0 310.7,642.3 304.5,640.8 299.8,637.7 298.3,633.0 297.5,628.3"/>
<path d="M317.0,648.6 315.4,651.7 310.7,657.1 304.5,657.9 298.3,656.3 292.0,657.9 285.8,661.0"/>
<path d="M285.8,661.0 283.5,656.3 280.4,651.7 279.6,647.0"/>
<path d="M285.8,661.0 279.6,661.0 273.3,662.6 270.2,667.2 264.0,668.8 271.7,665.7 265.5,667.2 259.3,668.8 253.0,667.2"/>
<path d="M253.0,667.2 251.5,662.6 255.4,661.0 259.3,657.9 260.0,650.1"/>
<path d="M238.2,654.8 237.5,661.0 242.1,665.7"/>
<path d="M242.1,665.7 245.2,665.7 249.9,665.7 253.0,667.2"/>
<path d="M224.2,651.7 221.9,657.9 219.5,662.6 220.3,668.8 215.7,673.5 209.4,675.0 203.2,673.5"/>
<path d="M203.2,673.5 206.3,681.3 203.2,687.5 207.9,689.1 217.2,684.4 226.6,679.7 237.5,678.1 245.2,673.5 242.1,665.7"/>
<path d="M203.2,673.5 198.5,678.1 190.7,678.1 190.7,671.9 184.5,667.2 177.5,659.5 168.9,653.2 165.8,643.9 164.2,637.7 167.4,633.0"/>
</g>
<g font-family="'Liberation Sans',sans-serif" font-weight="bold" font-size="10" fill="#40304a" fill-opacity="0.10">
<text x="267.5" y="366.5" font-size="10.3">ROVANIEMI</text>
<text x="266.5" y="425.5" font-size="9.9">OULU</text>
<text x="266.5" y="435.5" font-size="9.9">ULEÅBORG</text>
<text x="319.5" y="482.0" font-size="9.6">KAJAANI</text>
<text x="319.5" y="491.0" font-size="9.5">KAJANA</text>
<text x="161.0" y="487.0" font-size="9.5" transform="rotate(-4 161.0 487.0)">KOKKOLA</text>
<text x="162.0" y="496.0" font-size="9.5" transform="rotate(-4 162.0 496.0)">KARLEBY</text>
<text x="138.5" y="530.0" font-size="9.3" transform="rotate(-4 138.5 530.0)">VAASA</text>
<text x="139.5" y="538.0" font-size="9.2" transform="rotate(-4 139.5 538.0)">VASA</text>
<text x="206.0" y="550.5" font-size="9.1" transform="rotate(-3 206.0 550.5)">SEINÄJOKI</text>
<text x="244.5" y="572.0" font-size="9.0">JYVÄSKYLÄ</text>
<text x="271.5" y="540.0" font-size="9.2">KUOPIO</text>
<text x="365.0" y="555.5" font-size="9.1">JOENSUU</text>
<text x="304.5" y="598.5" font-size="8.8">MIKKELI</text>
<text x="297.5" y="607.5" font-size="8.8">S:T MICHEL</text>
<text x="227.0" y="603.5" font-size="8.8">TAMPERE</text>
<text x="228.0" y="612.0" font-size="8.7">TAMMERFORS</text>
<text x="146.5" y="610.0" font-size="8.8" transform="rotate(-3 146.5 610.0)">PORI</text>
<text x="108.0" y="623.5" font-size="8.7" transform="rotate(-8 108.0 623.5)">BJÖRNEBORG</text>
<text x="173.5" y="635.0" font-size="8.6" transform="rotate(-2 173.5 635.0)">HÄMEENLINNA</text>
<text x="175.0" y="642.0" font-size="8.6" transform="rotate(-2 175.0 642.0)">TAVASTEHUS</text>
<text x="268.5" y="628.5" font-size="8.6">LAHTI</text>
<text x="268.5" y="636.5" font-size="8.6">LAHTIS</text>
<text x="291.0" y="651.5" font-size="8.5">KOUVOLA</text>
<text x="327.0" y="629.5" font-size="8.6">LAPPEENRANTA</text>
<text x="318.5" y="639.0" font-size="8.6">VILLMANSTRAND</text>
<text x="151.0" y="661.5" font-size="8.4" transform="rotate(-3 151.0 661.5)">TURKU</text>
<text x="153.5" y="670.0" font-size="8.4" transform="rotate(-3 153.5 670.0)">ÅBO</text>
<text x="117.5" y="691.0" font-size="8.2" transform="rotate(-4 117.5 691.0)">MARIEHAMN</text>
<text x="118.5" y="700.0" font-size="8.2" transform="rotate(-4 118.5 700.0)">MAARIANHAMINA</text>
<text x="252.5" y="683.5" font-size="8.3">HELSINKI</text>
<text x="252.5" y="691.5" font-size="8.2">HELSINGFORS</text>
</g>
</svg>
<!--/MAPSVG-->
<!--CTRL-->
<div class="lbar" style="left:10px;top:10px;height:64px">
<div class="lb" style="border-bottom:1px solid #ccc"><span class="zt" style="top:0px">+</span></div>
<div class="lb"><span class="zt" style="top:0px">&#8722;</span></div>
</div>
<div class="lbar" style="left:10px;top:84px;height:34px">
<div class="lb"><svg width="16" height="16" viewBox="0 0 16 16" style="position:absolute;left:7px;top:7px"><path d="M1 5.5V1H5.5M10.5 1H15V5.5M15 10.5V15H10.5M5.5 15H1V10.5" fill="none" stroke="#333" stroke-width="2"/></svg></div>
</div>
<div id="legend">
<div class="lt">Huono-osaisuus yhteensä</div>
<svg width="60" height="200" style="position:absolute;left:8px;top:29px">
<defs><linearGradient id="lg" x1="0" y1="0" x2="0" y2="1">
<stop offset="0" stop-color="#fdfed6"/><stop offset="0.12" stop-color="#f7fcc8"/><stop offset="0.25" stop-color="#e3f4c4"/><stop offset="0.40" stop-color="#bfe6c8"/>
<stop offset="0.52" stop-color="#96d6cc"/><stop offset="0.63" stop-color="#6fbfd2"/><stop offset="0.73" stop-color="#5ba4cd"/><stop offset="0.83" stop-color="#6284c0"/>
<stop offset="0.92" stop-color="#616fb4"/><stop offset="1" stop-color="#515e98"/></linearGradient></defs>
<rect x="0" y="6" width="18" height="190" fill="url(#lg)"/>
<g stroke="#555" stroke-width="1"><path d="M18 8.5h4M18 28.5h4M18 48.5h4M18 68.5h4M18 88.5h4M18 108.5h4M18 128.5h4M18 148.5h4M18 168.5h4M18 188.5h4"/></g>
<g font-family="'Liberation Sans',sans-serif" font-size="14" fill="#555" text-anchor="end">
<text x="48" y="12">75</text><text x="48" y="32">80</text><text x="48" y="52">85</text><text x="48" y="72">90</text><text x="48" y="92">95</text>
<text x="48" y="112">100</text><text x="48" y="132">105</text><text x="48" y="152">110</text><text x="48" y="172">115</text><text x="48" y="192">120</text></g>
</svg>
</div>
<div id="attr">Leaflet</div>
<!--/CTRL-->
</div>
</body>
</html>
